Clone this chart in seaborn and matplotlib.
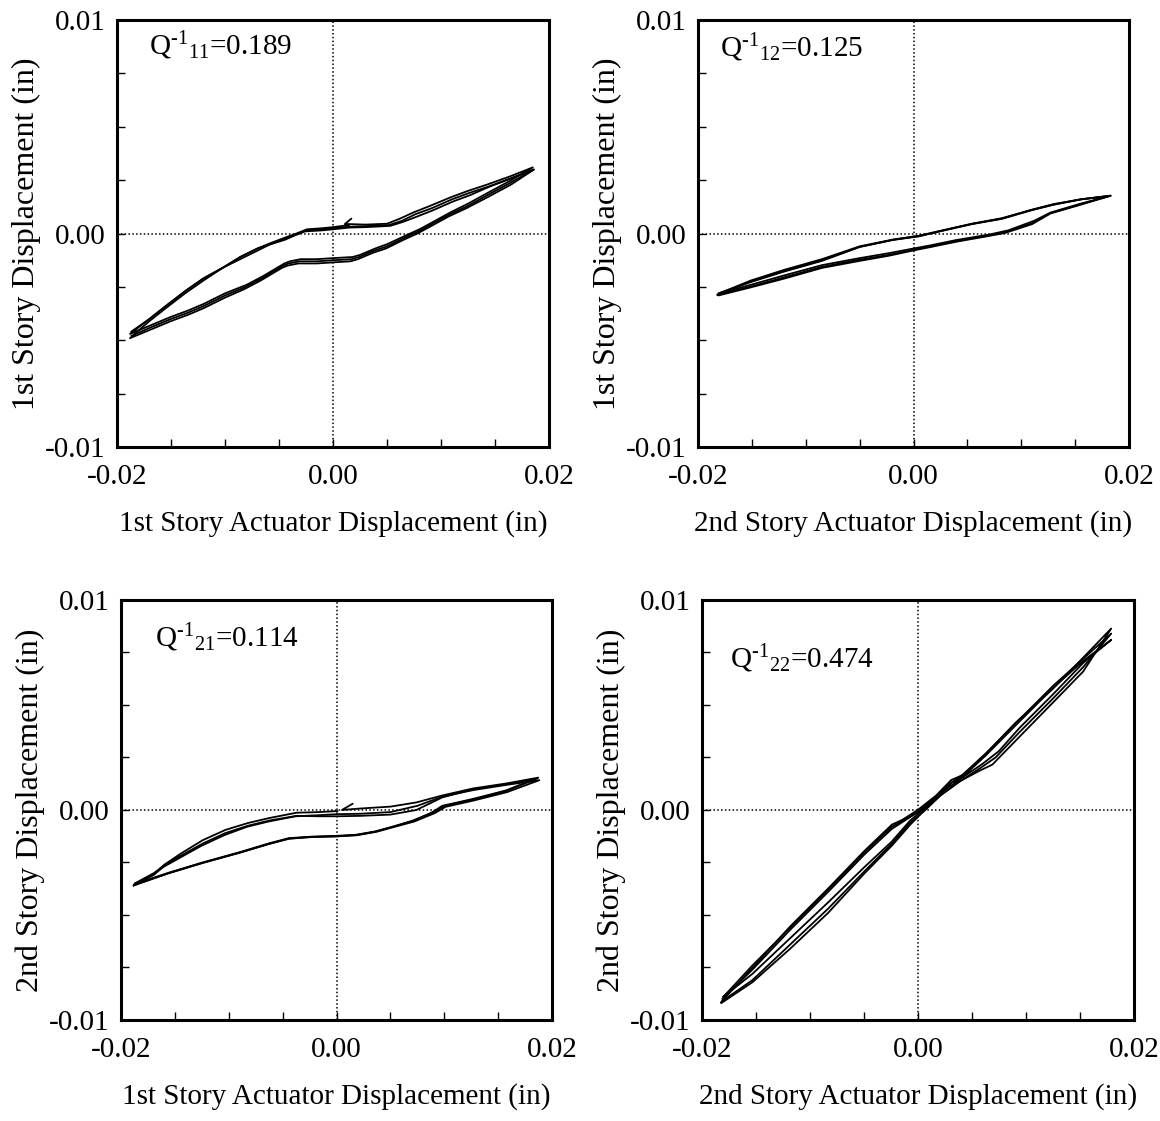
import matplotlib
matplotlib.use("Agg")
import matplotlib.pyplot as plt
import seaborn as sns

sns.set_theme(style="white")
plt.rcParams['font.family'] = ['Liberation Serif', 'DejaVu Serif']
plt.rcParams['mathtext.fontset'] = 'custom'
plt.rcParams['mathtext.rm'] = 'Liberation Serif'
plt.rcParams['mathtext.it'] = 'Liberation Serif:italic'
plt.rcParams['axes.unicode_minus'] = False

# Axis ticks (only a few are labelled)
x_ticks = [-0.02, -0.015, -0.01, -0.005, 0.0, 0.005, 0.01, 0.015, 0.02]
x_tick_labels = ["-0.02", "", "", "", "0.00", "", "", "", "0.02"]
y_ticks = [-0.01, -0.0075, -0.005, -0.0025, 0.0, 0.0025, 0.005, 0.0075, 0.01]
y_tick_labels = ["-0.01", "", "", "", "0.00", "", "", "", "0.01"]

# Q-1_11 : 1st story displacement vs 1st story actuator (three cycles)
q11_x = [
    [0.0017, 0.0011, 0.0030, 0.0050, 0.0062, 0.0074, 0.0090, 0.0109, 0.0125, 0.0143, 0.0165, 0.0185,
     0.0165, 0.0143, 0.0125, 0.0109, 0.0091, 0.0080, 0.0067, 0.0050, 0.0039, 0.0025, 0.0018, 0.0000, -0.0015,
     -0.0030, -0.0040, -0.0045, -0.0055, -0.0065, -0.0080, -0.0100, -0.0120, -0.0134, -0.0150, -0.0169, -0.0188,
     -0.0170, -0.0155, -0.0137, -0.0120, -0.0102, -0.0086, -0.0070, -0.0058, -0.0045, -0.0034, -0.0024, -0.0010,
     0.0000, 0.0015],
    [-0.0187, -0.0170, -0.0155, -0.0137, -0.0120, -0.0102, -0.0086, -0.0070, -0.0058, -0.0045, -0.0035, -0.0025,
     -0.0010, 0.0000, 0.0015, 0.0030, 0.0052, 0.0064, 0.0076, 0.0092, 0.0110, 0.0126, 0.0144, 0.0165, 0.0186,
     0.0165, 0.0143, 0.0125, 0.0108, 0.0090, 0.0079, 0.0066, 0.0050, 0.0038, 0.0024, 0.0017, 0.0000, -0.0015,
     -0.0031, -0.0041, -0.0046, -0.0056, -0.0066, -0.0081, -0.0100, -0.0120, -0.0134, -0.0150, -0.0169, -0.0187],
    [-0.0186, -0.0170, -0.0155, -0.0137, -0.0120, -0.0102, -0.0086, -0.0070, -0.0058, -0.0045, -0.0036, -0.0026,
     -0.0010, 0.0000, 0.0015, 0.0030, 0.0053, 0.0065, 0.0078, 0.0093, 0.0111, 0.0127, 0.0145, 0.0166, 0.0186,
     0.0165, 0.0143, 0.0124, 0.0107, 0.0089, 0.0078, 0.0065, 0.0049, 0.0037, 0.0023, 0.0016, 0.0000, -0.0015,
     -0.0032, -0.0042, -0.0047, -0.0057, -0.0067, -0.0082, -0.0100, -0.0120, -0.0134, -0.0150, -0.0169, -0.0188],
]
q11_y = [
    [0.0007, 0.00045, 0.00042, 0.00046, 0.0007, 0.00098, 0.0013, 0.0017, 0.0020, 0.0023, 0.0027, 0.0031,
     0.0025, 0.0019, 0.0014, 0.0010, 0.0005, 0.0002, -0.0001, -0.0005, -0.0007, -0.0010, -0.0011, -0.00115, -0.0012,
     -0.0012, -0.0013, -0.0014, -0.0017, -0.0020, -0.0024, -0.0028, -0.0033, -0.0036, -0.0039, -0.0043, -0.0047,
     -0.0040, -0.0034, -0.0027, -0.0021, -0.0016, -0.0011, -0.0007, -0.00045, -0.0002, 0.0000, 0.0002, 0.00025,
     0.0003, 0.0004],
    [-0.0046, -0.0040, -0.0034, -0.0027, -0.0021, -0.0016, -0.0011, -0.0007, -0.0005, -0.00025, -0.00005, 0.00015,
     0.0002, 0.00025, 0.00032, 0.00035, 0.0004, 0.0006, 0.0009, 0.0012, 0.0016, 0.0019, 0.0022, 0.0026, 0.0030,
     0.0024, 0.0018, 0.0013, 0.0009, 0.0004, 0.0001, -0.0002, -0.0006, -0.0008, -0.0011, -0.0012, -0.00125, -0.0013,
     -0.0013, -0.0014, -0.0015, -0.0018, -0.0021, -0.0025, -0.0029, -0.0034, -0.0037, -0.0040, -0.0044, -0.0048],
    [-0.0048, -0.0041, -0.0035, -0.0028, -0.0022, -0.0016, -0.0012, -0.0008, -0.0005, -0.0003, -0.0001, 0.0001,
     0.00015, 0.0002, 0.00028, 0.0003, 0.00036, 0.00055, 0.0008, 0.0011, 0.0015, 0.0018, 0.0022, 0.0026, 0.0030,
     0.0023, 0.0017, 0.0012, 0.0008, 0.0003, 0.0000, -0.0003, -0.0007, -0.0009, -0.0012, -0.0013, -0.00135, -0.0014,
     -0.0014, -0.0015, -0.0016, -0.0019, -0.0022, -0.0026, -0.0030, -0.0035, -0.0038, -0.0041, -0.0045, -0.0049],
]

# Q-1_12 : 1st story displacement vs 2nd story actuator
q12_x = [
    [-0.0181, -0.0151, -0.0120, -0.0085, -0.0050, -0.0019, 0.0005, 0.0026, 0.0054, 0.0082, 0.0110, 0.0130, 0.0155, 0.0183,
     0.0155, 0.0127, 0.0110, 0.0085, 0.0068, 0.0040, 0.0016, 0.0000, -0.0023, -0.0050, -0.0085, -0.0120, -0.0151, -0.0181],
    [-0.0180, -0.0151, -0.0120, -0.0085, -0.0050, -0.0019, 0.0005, 0.0026, 0.0054, 0.0082, 0.0110, 0.0130, 0.0155, 0.0182,
     0.0155, 0.0127, 0.0112, 0.0088, 0.0070, 0.0040, 0.0016, 0.0000, -0.0023, -0.0050, -0.0085, -0.0120, -0.0151, -0.0180],
    [-0.0182, -0.0151, -0.0120, -0.0085, -0.0050, -0.0019, 0.0005, 0.0026, 0.0054, 0.0082, 0.0110, 0.0130, 0.0155, 0.0183,
     0.0155, 0.0127, 0.0111, 0.0086, 0.0069, 0.0040, 0.0016, 0.0000, -0.0023, -0.0050, -0.0085, -0.0120, -0.0151, -0.0182],
]
q12_y = [
    [-0.0028, -0.00227, -0.00178, -0.00128, -0.00063, -0.0003, -0.00013, 0.00012, 0.00044, 0.00069, 0.0011, 0.00135, 0.0016, 0.00178,
     0.00135, 0.00094, 0.00044, 0.00003, -0.00013, -0.00038, -0.00063, -0.00079, -0.00104, -0.00128, -0.00161, -0.00211, -0.00252, -0.0029],
    [-0.0028, -0.0022, -0.0017, -0.0012, -0.0006, -0.00028, -0.0001, 0.00014, 0.00046, 0.00072, 0.00112, 0.00138, 0.0016, 0.00176,
     0.0014, 0.00098, 0.0006, 0.00015, -0.00005, -0.0003, -0.00055, -0.0007, -0.00092, -0.00115, -0.00148, -0.00196, -0.0024, -0.0028],
    [-0.00285, -0.00225, -0.00175, -0.00125, -0.00062, -0.00029, -0.00012, 0.00013, 0.00045, 0.0007, 0.00111, 0.00136, 0.0016, 0.00177,
     0.00137, 0.00096, 0.0005, 0.00008, -0.0001, -0.00035, -0.0006, -0.00076, -0.001, -0.00122, -0.00156, -0.00205, -0.00248, -0.00288],
]

# Q-1_21 : 2nd story displacement vs 1st story actuator
q21_x = [
    [0.0015, 0.0005, 0.0022, 0.0050, 0.0074, 0.0098, 0.0126, 0.0157, 0.0187,
     0.0157, 0.0126, 0.0098, 0.0088, 0.0070, 0.0053, 0.0036, 0.0018, 0.0000, -0.0023, -0.0044, -0.0062, -0.0089,
     -0.0124, -0.0155, -0.0188,
     -0.0169, -0.0159, -0.0145, -0.0124, -0.0103, -0.0082, -0.0062, -0.0037, -0.0016, 0.0001],
    [-0.0187, -0.0169, -0.0159, -0.0145, -0.0124, -0.0103, -0.0082, -0.0062, -0.0037, -0.0016, 0.0001, 0.0022,
     0.0050, 0.0074, 0.0098, 0.0126, 0.0157, 0.0186,
     0.0157, 0.0126, 0.0100, 0.0090, 0.0071, 0.0053, 0.0036, 0.0018, 0.0000, -0.0023, -0.0044, -0.0062, -0.0089,
     -0.0124, -0.0155, -0.0187],
    [-0.0188, -0.0170, -0.0160, -0.0146, -0.0125, -0.0104, -0.0083, -0.0063, -0.0038, -0.0017, 0.0000, 0.0022,
     0.0050, 0.0075, 0.0099, 0.0127, 0.0158, 0.0188,
     0.0158, 0.0127, 0.0101, 0.0091, 0.0072, 0.0054, 0.0037, 0.0019, 0.0000, -0.0023, -0.0044, -0.0063, -0.0090,
     -0.0125, -0.0156, -0.0188],
]
q21_y = [
    [0.0003, 0.0000, 0.00007, 0.00016, 0.00036, 0.00069, 0.00102, 0.00126, 0.00154,
     0.00093, 0.00052, 0.0002, -0.00013, -0.00054, -0.00079, -0.00103, -0.0012, -0.00125, -0.00128, -0.00136, -0.00161,
     -0.00202, -0.00251, -0.003, -0.00357,
     -0.00308, -0.00259, -0.0021, -0.00144, -0.00095, -0.00062, -0.00038, -0.00013, -0.0001, -0.00005],
    [-0.0035, -0.0030, -0.0026, -0.0022, -0.0016, -0.0011, -0.00075, -0.0005, -0.00028, -0.0003, -0.0003, -0.00028,
     -0.00022, 0.0000, 0.0006, 0.00098, 0.00122, 0.0015,
     0.0009, 0.0005, 0.00018, -0.0001, -0.0005, -0.00078, -0.00102, -0.00118, -0.00123, -0.00127, -0.00134, -0.00158,
     -0.002, -0.0025, -0.00298, -0.00352],
    [-0.0036, -0.0031, -0.0027, -0.0023, -0.0017, -0.0012, -0.0008, -0.00055, -0.0003, -0.00025, -0.0002, -0.00018,
     -0.0001, 0.0002, 0.00065, 0.00095, 0.0012, 0.00142,
     0.00085, 0.00045, 0.00015, -0.00015, -0.00055, -0.0008, -0.00104, -0.0012, -0.00126, -0.00129, -0.00137, -0.00162,
     -0.00204, -0.00254, -0.00302, -0.0036],
]

# Q-1_22 : 2nd story displacement vs 2nd story actuator
q22_x = [
    [-0.0182, -0.0153, -0.0118, -0.0083, -0.0049, -0.0024, -0.0014, 0.0000, 0.0017, 0.0031, 0.0042, 0.0063, 0.0090, 0.0125, 0.0153, 0.0179,
     0.0153, 0.0125, 0.0094, 0.0069, 0.0056, 0.0038, 0.0021, 0.0007, -0.0007, -0.0024, -0.0049, -0.0083, -0.0118, -0.0153, -0.0182],
    [-0.0181, -0.0153, -0.0118, -0.0083, -0.0049, -0.0024, -0.0012, 0.0000, 0.0017, 0.0031, 0.0042, 0.0063, 0.0090, 0.0125, 0.0153, 0.0179,
     0.0153, 0.0125, 0.0094, 0.0072, 0.0058, 0.0040, 0.0021, 0.0007, -0.0007, -0.0024, -0.0049, -0.0083, -0.0118, -0.0153, -0.0181],
    [-0.0180, -0.0153, -0.0118, -0.0083, -0.0049, -0.0024, -0.0010, 0.0000, 0.0017, 0.0031, 0.0042, 0.0063, 0.0090, 0.0125, 0.0153, 0.0179,
     0.0153, 0.0125, 0.0094, 0.0075, 0.0060, 0.0040, 0.0021, 0.0007, -0.0007, -0.0024, -0.0049, -0.0083, -0.0118, -0.0153, -0.0180],
]
q22_y = [
    [-0.00915, -0.00751, -0.00554, -0.00374, -0.00193, -0.0007, -0.00046, 0.0000, 0.00069, 0.00143, 0.00167, 0.00266, 0.00413, 0.00577, 0.00725, 0.00864,
     0.00659, 0.00511, 0.00348, 0.00216, 0.00184, 0.00134, 0.00069, 0.00003, -0.0007, -0.0017, -0.0030, -0.0049, -0.0066, -0.0082, -0.0092],
    [-0.0090, -0.0076, -0.0057, -0.0039, -0.0021, -0.0009, -0.0005, -0.0001, 0.0006, 0.0013, 0.0017, 0.0027, 0.0041, 0.0059, 0.0072, 0.0084,
     0.0068, 0.0053, 0.0037, 0.0025, 0.0020, 0.0014, 0.0007, 0.0000, -0.0006, -0.0016, -0.0029, -0.0047, -0.0064, -0.0081, -0.0091],
    [-0.0089, -0.0074, -0.0056, -0.0038, -0.0020, -0.0008, -0.0004, -0.0001, 0.0006, 0.0013, 0.0016, 0.0026, 0.0040, 0.0058, 0.0071, 0.0081,
     0.0070, 0.0055, 0.0039, 0.0028, 0.0022, 0.0015, 0.0008, 0.0001, -0.0005, -0.0015, -0.0027, -0.0044, -0.0061, -0.0078, -0.0089],
]

x_labels = ["1st Story Actuator Displacement (in)", "2nd Story Actuator Displacement (in)",
            "1st Story Actuator Displacement (in)", "2nd Story Actuator Displacement (in)"]
y_labels = ["1st Story Displacement (in)", "1st Story Displacement (in)",
            "2nd Story Displacement (in)", "2nd Story Displacement (in)"]
q_labels = [r"Q$^{\text{-1}}{}_{11}$=0.189", r"Q$^{\text{-1}}{}_{12}$=0.125",
            r"Q$^{\text{-1}}{}_{21}$=0.114", r"Q$^{\text{-1}}{}_{22}$=0.474"]

panels = [(q11_x, q11_y), (q12_x, q12_y), (q21_x, q21_y), (q22_x, q22_y)]
axes_pos = [[0.1009, 0.6012, 0.3724, 0.3809],
            [0.6017, 0.6012, 0.3716, 0.3809],
            [0.1040, 0.0901, 0.3722, 0.3747],
            [0.6049, 0.0901, 0.3726, 0.3747]]
text_pos = [(0.075, 0.94), (0.05, 0.935), (0.08, 0.91), (0.065, 0.86)]

fig = plt.figure(figsize=(11.6, 11.21), dpi=100)

for i, (xs, ys) in enumerate(panels):
    ax = fig.add_axes(axes_pos[i])
    for cx, cy in zip(xs, ys):
        sns.lineplot(x=cx, y=cy, sort=False, estimator=None, color="black", lw=1.3, ax=ax)
    ax.axhline(0, color="black", lw=1.1, ls=(0, (1, 1.5)))
    ax.axvline(0, color="black", lw=1.1, ls=(0, (1, 1.5)))

    ax.set_xlim(-0.02, 0.02)
    ax.set_ylim(-0.01, 0.01)
    ax.set_xticks(x_ticks)
    ax.set_xticklabels(x_tick_labels)
    ax.set_yticks(y_ticks)
    ax.set_yticklabels(y_tick_labels)
    ax.tick_params(axis="both", direction="in", length=6, width=1, color="black",
                   labelsize=21, labelcolor="black", left=True, bottom=True)
    ax.tick_params(axis="x", pad=12)
    ax.tick_params(axis="y", pad=8)
    for s in ax.spines.values():
        s.set_linewidth(2.2)
        s.set_color("black")

    ax.set_xlabel(x_labels[i], fontsize=21, labelpad=15, color="black")
    ax.set_ylabel(y_labels[i], fontsize=23, labelpad=3, color="black")
    ax.text(text_pos[i][0], text_pos[i][1], q_labels[i], transform=ax.transAxes,
            fontsize=21, va="center", ha="left", color="black")

fig.savefig("out.png", dpi=100)
